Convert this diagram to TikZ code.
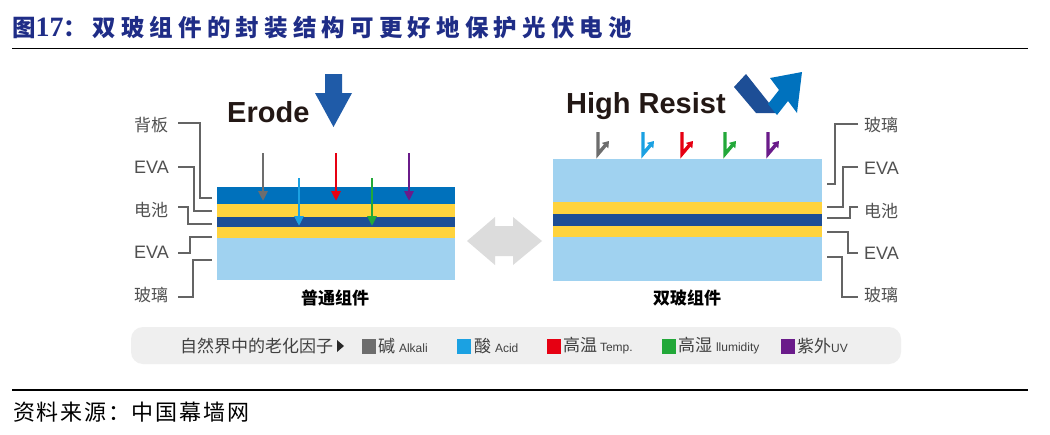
\documentclass[tikz,border=0pt]{standalone}
\usepackage{fontspec}
\setmainfont{Noto Sans CJK SC}
\newfontfamily\cjk{Noto Sans CJK SC}
\newfontfamily\titlefont{Noto Sans CJK SC}[LetterSpace=22]
\newfontfamily\srcfont{Noto Sans CJK SC}[LetterSpace=8]
\newfontfamily\lat{Liberation Sans}
\newfontfamily\latserif{Liberation Serif}
\usetikzlibrary{arrows.meta}
\definecolor{titleblue}{RGB}{31,45,135}
\definecolor{backblue}{RGB}{0,113,188}
\definecolor{evayellow}{RGB}{255,211,61}
\definecolor{cellnavy}{RGB}{29,78,150}
\definecolor{glassblue}{RGB}{160,210,240}
\definecolor{bigarrow}{RGB}{31,91,168}
\definecolor{brightblue}{RGB}{0,114,190}
\definecolor{cgray}{RGB}{109,109,109}
\definecolor{cblue}{RGB}{27,161,226}
\definecolor{cred}{RGB}{230,0,18}
\definecolor{cgreen}{RGB}{34,168,57}
\definecolor{cpurple}{RGB}{106,27,138}
\definecolor{lblgray}{RGB}{80,80,80}
\definecolor{leader}{RGB}{100,100,100}
\definecolor{dblarrow}{RGB}{220,220,220}
\definecolor{barbg}{RGB}{239,239,239}
\definecolor{wordblack}{RGB}{35,24,21}
\definecolor{legtext}{RGB}{64,64,64}
\definecolor{tridark}{RGB}{40,40,40}
\begin{document}
\begin{tikzpicture}[x=1pt,y=-1pt,
  lbl/.style={anchor=west,inner sep=0,text=lblgray,font=\cjk\fontsize{17}{17}\selectfont},
  lbll/.style={anchor=west,inner sep=0,text=lblgray,font=\lat\fontsize{18}{18}\selectfont},
  leaderline/.style={draw=leader,line width=1.3pt},
  smallarrow/.style={line width=2.8pt,-{Triangle[length=10pt,width=9pt]}},
  bounce/.style={line width=3.4pt,-{Triangle[length=6pt,width=8pt]}},
  caption/.style={inner sep=0,text=black,font=\cjk\bfseries\fontsize{17}{17}\selectfont},
  bigword/.style={anchor=base west,inner sep=0,text=wordblack,font=\lat\bfseries\fontsize{29}{29}\selectfont},
  legtxt/.style={anchor=west,inner sep=0,text=legtext,font=\cjk\fontsize{17}{17}\selectfont}
]
\newcommand\legsmall{\lat\fontsize{12}{12}\selectfont}
\useasboundingbox (0,0) rectangle (1050,434);
\fill[white] (0,0) rectangle (1050,434);

% title
\node[anchor=west,inner sep=0,text=titleblue,font=\titlefont\bfseries\fontsize{23.5}{24}\selectfont] (title) at (12,28) {图{\latserif\bfseries\fontsize{28}{28}\selectfont 17}：双玻组件的封装结构可更好地保护光伏电池};
\draw[line width=1.6pt] (12,48.5) -- (1028,48.5);

% ---------- left stack ----------
\fill[backblue] (217,187) rectangle (455,204);
\fill[evayellow] (217,204) rectangle (455,217);
\fill[cellnavy] (217,217) rectangle (455,227);
\fill[evayellow] (217,227) rectangle (455,238);
\fill[glassblue] (217,238) rectangle (455,280);

\node[lbl] (l1) at (134,125) {背板};
\node[lbll] (l2) at (134,167) {EVA};
\node[lbl] (l3) at (134,210) {电池};
\node[lbll] (l4) at (134,252) {EVA};
\node[lbl] (l5) at (134,295) {玻璃};
\draw[leaderline] (178,123) -- (200,123) -- (200,198) -- (212,198);
\draw[leaderline] (178,167) -- (194,167) -- (194,211) -- (212,211);
\draw[leaderline] (178,207) -- (188,207) -- (188,224) -- (212,224);
\draw[leaderline] (178,253) -- (190,253) -- (190,237) -- (212,237);
\draw[leaderline] (178,297) -- (193,297) -- (193,260) -- (212,260);

\node[bigword] (erode) at (227,122) {Erode};
\fill[bigarrow] (325,74) -- (342,74) -- (342,93) -- (352,93) -- (333.5,127) -- (315,93) -- (325,93) -- cycle;

\draw[smallarrow,cgray] (263,153) -- (263,201);
\draw[smallarrow,cblue] (299,178) -- (299,226);
\draw[smallarrow,cred] (336,153) -- (336,201);
\draw[smallarrow,cgreen] (372,178) -- (372,226);
\draw[smallarrow,cpurple] (409,153) -- (409,201);

\node[caption] (capl) at (335,298) {普通组件};

% ---------- double arrow ----------
\fill[dblarrow] (467,241) -- (495,217) -- (495,226) -- (513,226) -- (513,217) -- (542,241) -- (513,265) -- (513,256) -- (495,256) -- (495,265) -- cycle;

% ---------- right stack ----------
\fill[glassblue] (553,159) rectangle (822,202);
\fill[evayellow] (553,202) rectangle (822,214);
\fill[cellnavy] (553,214) rectangle (822,226);
\fill[evayellow] (553,226) rectangle (822,237);
\fill[glassblue] (553,237) rectangle (822,281);

\node[lbl] (r1) at (864,125) {玻璃};
\node[lbll] (r2) at (864,168) {EVA};
\node[lbl] (r3) at (864,211) {电池};
\node[lbll] (r4) at (864,253) {EVA};
\node[lbl] (r5) at (864,295) {玻璃};
\draw[leaderline] (858,124) -- (835,124) -- (835,184) -- (827,184);
\draw[leaderline] (858,167) -- (843,167) -- (843,207) -- (827,207);
\draw[leaderline] (858,207) -- (850,207) -- (850,218) -- (827,218);
\draw[leaderline] (827,232) -- (848,232) -- (848,253) -- (858,253);
\draw[leaderline] (827,257) -- (842,257) -- (842,297) -- (858,297);

\node[bigword] (resist) at (566,113) {High Resist};
\fill[cellnavy] (734,87) -- (746,74) -- (777,113) -- (756,113) -- cycle;
\fill[brightblue] (768,104) -- (779,90) -- (770,78) -- (802,72) -- (797,113) -- (788,101) -- (777,115) -- cycle;

\draw[bounce,cgray] (598,132) -- (598,154) -- (609,141);
\draw[bounce,cblue] (643,132) -- (643,154) -- (654,141);
\draw[bounce,cred] (682,132) -- (682,154) -- (693,141);
\draw[bounce,cgreen] (725,132) -- (725,154) -- (736,141);
\draw[bounce,cpurple] (768,132) -- (768,154) -- (779,141);

\node[caption] (capr) at (687,298) {双玻组件};

% ---------- legend ----------
\fill[barbg,rounded corners=12pt] (131,327) rectangle (901,364);
\node[legtxt] (legt) at (180,346) {自然界中的老化因子};
\fill[tridark] (337,340) -- (344,346) -- (337,352) -- cycle;
\fill[cgray] (362,339) rectangle (376,354);
\node[legtxt] (lg1) at (378,346) {碱 {\legsmall Alkali}};
\fill[cblue] (457,339) rectangle (471,354);
\node[legtxt] (lg2) at (474,346) {酸 {\legsmall Acid}};
\fill[cred] (547,339) rectangle (561,354);
\node[legtxt] (lg3) at (563,346) {高温\,{\legsmall Temp.}};
\fill[cgreen] (662,339) rectangle (676,354);
\node[legtxt] (lg4) at (678,346) {高湿 {\legsmall llumidity}};
\fill[cpurple] (781,339) rectangle (795,354);
\node[legtxt] (lg5) at (797,346) {紫外{\legsmall UV}};

% ---------- source ----------
\draw[line width=1.6pt] (12,390) -- (1028,390);
\node[anchor=west,inner sep=0,text=black,font=\srcfont\fontsize{22}{22}\selectfont] (src) at (13,412) {资料来源：中国幕墙网};
\end{tikzpicture}
\end{document}
